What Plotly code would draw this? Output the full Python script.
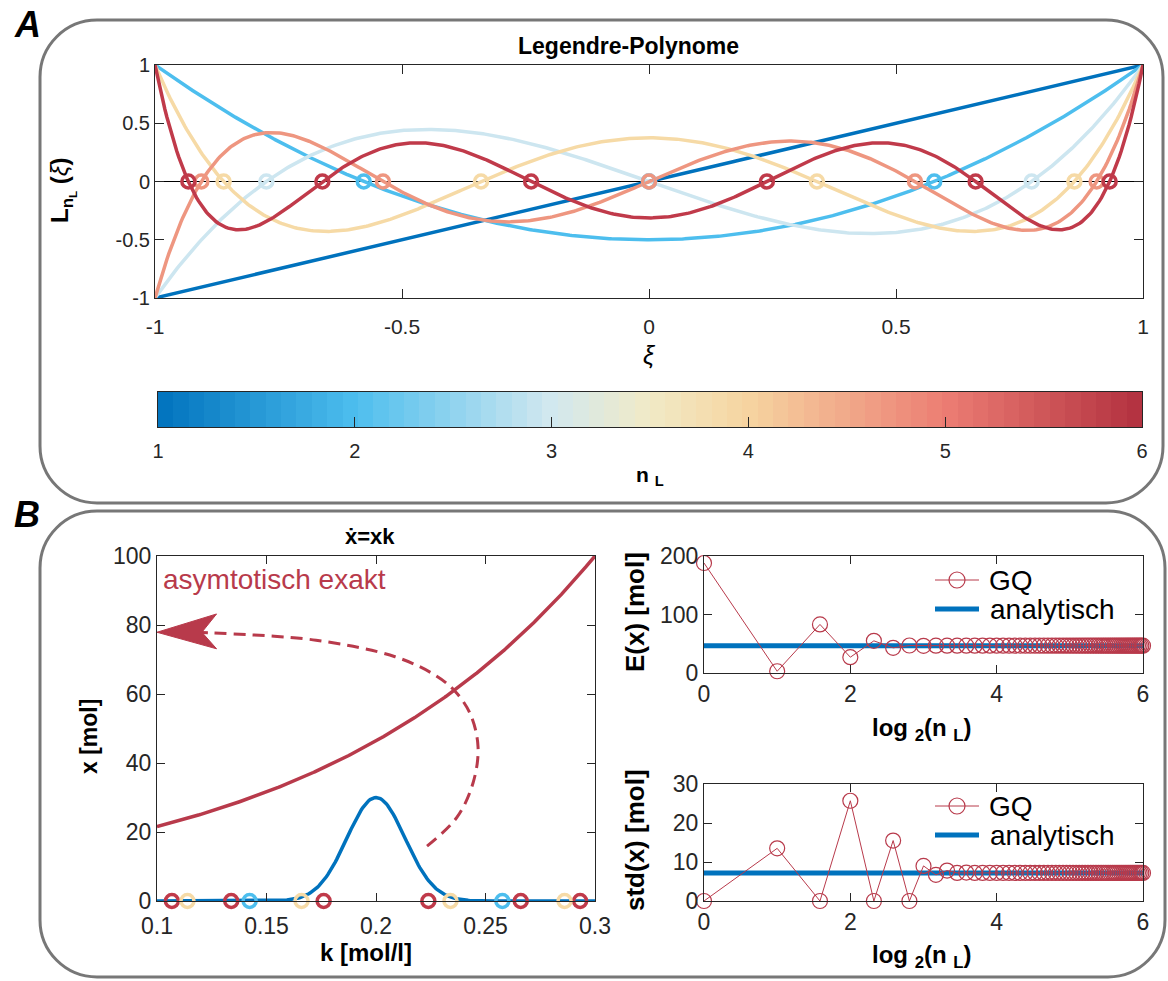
import numpy as np
import plotly.graph_objects as go
from numpy.polynomial import legendre as L

W, H = 1168, 981
FONT = "Liberation Sans, Arial, sans-serif"
TXT = "#262626"

# ---------------- data ----------------
n_L = [1, 2, 3, 4, 5, 6]
line_colors = ["#0072BD", "#4DBEEE", "#CDE6F0", "#F6DAA6", "#EE9680", "#C03A4A"]
nodes = [
    [0.0],
    [-0.5774, 0.5774],
    [-0.7746, 0.0, 0.7746],
    [-0.8611, -0.3400, 0.3400, 0.8611],
    [-0.9062, -0.5385, 0.0, 0.5385, 0.9062],
    [-0.9325, -0.6612, -0.2386, 0.2386, 0.6612, 0.9325],
]
cmap_stops = [0.0, 0.2, 0.4, 0.5, 0.6, 0.8, 1.0]
cmap_cols = ["#0072BD", "#4DBEEE", "#D2E8EF", "#F1EAC6", "#F6D4A0", "#EC7D73", "#B2303F"]
cbar_ticks = [1, 2, 3, 4, 5, 6]

# panel B left
k_range = [0.1, 0.3]
x0_mol = 10.0
t_end = 7.675
k_mean = 0.2
k_sd = 0.0133
k_nodes_2 = [0.1423, 0.2577]
k_nodes_4 = [0.1139, 0.1660, 0.2340, 0.2861]
k_nodes_6 = [0.1068, 0.1339, 0.1761, 0.2239, 0.2661, 0.2932]
node_colors = {2: "#4DBEEE", 4: "#F6DAA6", 6: "#C03A4A"}
RED = "#B83A4B"
BLUE = "#0072BD"

# mapping illustration (dashed arrow)
arrow_k = [0.2233, 0.2370, 0.2443, 0.2466, 0.2432, 0.2361, 0.2269, 0.2087, 0.1726, 0.1256, 0.118]
arrow_x = [15.9, 24.3, 34.2, 44.6, 54.0, 60.8, 65.5, 70.8, 75.6, 77.7, 77.9]

# panel B right
n_quad = list(range(1, 65))
E_gq = [188, 3, 83, 27, 55, 43, 47, 46.5,
        46.7, 46.7, 46.7, 46.7, 46.7, 46.7, 46.7, 46.7,
        46.7, 46.7, 46.7, 46.7, 46.7, 46.7, 46.7, 46.7,
        46.7, 46.7, 46.7, 46.7, 46.7, 46.7, 46.7, 46.7,
        46.7, 46.7, 46.7, 46.7, 46.7, 46.7, 46.7, 46.7,
        46.7, 46.7, 46.7, 46.7, 46.7, 46.7, 46.7, 46.7,
        46.7, 46.7, 46.7, 46.7, 46.7, 46.7, 46.7, 46.7,
        46.7, 46.7, 46.7, 46.7, 46.7, 46.7, 46.7, 46.7]
E_analytic = 46.7
S_gq = [0, 13.5, 0, 25.7, 0, 15.5, 0, 9.0,
        6.7, 7.8, 7.2, 7.3, 7.2, 7.2, 7.2, 7.2,
        7.2, 7.2, 7.2, 7.2, 7.2, 7.2, 7.2, 7.2,
        7.2, 7.2, 7.2, 7.2, 7.2, 7.2, 7.2, 7.2,
        7.2, 7.2, 7.2, 7.2, 7.2, 7.2, 7.2, 7.2,
        7.2, 7.2, 7.2, 7.2, 7.2, 7.2, 7.2, 7.2,
        7.2, 7.2, 7.2, 7.2, 7.2, 7.2, 7.2, 7.2,
        7.2, 7.2, 7.2, 7.2, 7.2, 7.2, 7.2, 7.2]
S_analytic = 7.2
legend_labels = ["GQ", "analytisch"]

# ---------------- helpers ----------------
def px(x):
    return x / W

def py(y):
    return 1 - y / H

def dom_x(a, b):
    return [px(a), px(b)]

def dom_y(top, bottom):
    return [py(bottom), py(top)]

def rrect(x0, y0, x1, y1, r):
    c = 0.5523 * r
    def P(x, y):
        return f"{px(x):.5f},{py(y):.5f}"
    s = f"M{P(x0 + r, y0)} L{P(x1 - r, y0)} C{P(x1 - r + c, y0)} {P(x1, y0 + r - c)} {P(x1, y0 + r)} "
    s += f"L{P(x1, y1 - r)} C{P(x1, y1 - r + c)} {P(x1 - r + c, y1)} {P(x1 - r, y1)} "
    s += f"L{P(x0 + r, y1)} C{P(x0 + r - c, y1)} {P(x0, y1 - r + c)} {P(x0, y1 - r)} "
    s += f"L{P(x0, y0 + r)} C{P(x0, y0 + r - c)} {P(x0 + r - c, y0)} {P(x0 + r, y0)} Z"
    return s

fig = go.Figure()

# ---------------- Panel A: Legendre polynomials ----------------
xi = np.linspace(-1, 1, 501)
for n, col in zip(n_L, line_colors):
    yv = L.Legendre.basis(n)(xi)
    fig.add_trace(go.Scatter(x=xi, y=yv, mode="lines", line=dict(color=col, width=3.5),
                             xaxis="x", yaxis="y", showlegend=False, hoverinfo="skip"))
for n, col, nd in zip(n_L, line_colors, nodes):
    fig.add_trace(go.Scatter(x=nd, y=[0] * len(nd), mode="markers",
                             marker=dict(symbol="circle-open", size=13, color=col, line=dict(width=3.5)),
                             xaxis="x", yaxis="y", showlegend=False, cliponaxis=False, hoverinfo="skip"))

# colorbar as heatmap strip
ncell = 64
cb_x = [cbar_ticks[0] + (i + 0.5) * (cbar_ticks[-1] - cbar_ticks[0]) / ncell for i in range(ncell)]
fig.add_trace(go.Heatmap(x=cb_x, y=[0], z=[cb_x], zmin=1, zmax=6,
                         colorscale=[[s, c] for s, c in zip(cmap_stops, cmap_cols)],
                         showscale=False, xaxis="x2", yaxis="y2", hoverinfo="skip"))

# ---------------- Panel B left ----------------
kk = np.linspace(k_range[0], k_range[1], 301)
x_traj = x0_mol * np.exp(kk * t_end)
pdf = np.exp(-0.5 * ((kk - k_mean) / k_sd) ** 2) / (k_sd * np.sqrt(2 * np.pi))
fig.add_trace(go.Scatter(x=kk, y=x_traj, mode="lines", line=dict(color=RED, width=3.5),
                         xaxis="x3", yaxis="y3", showlegend=False, hoverinfo="skip"))
fig.add_trace(go.Scatter(x=arrow_k, y=arrow_x, mode="lines",
                         line=dict(color=RED, width=3, dash="12px,7px", shape="spline"),
                         xaxis="x3", yaxis="y3", showlegend=False, hoverinfo="skip"))
fig.add_trace(go.Scatter(x=kk, y=pdf, mode="lines", line=dict(color=BLUE, width=3.5),
                         xaxis="x3", yaxis="y3", showlegend=False, hoverinfo="skip", cliponaxis=False))
for n, ks in [(6, k_nodes_6), (4, k_nodes_4), (2, k_nodes_2)]:
    fig.add_trace(go.Scatter(x=ks, y=[0] * len(ks), mode="markers",
                             marker=dict(symbol="circle-open", size=13, color=node_colors[n], line=dict(width=3.5)),
                             xaxis="x3", yaxis="y3", showlegend=False, cliponaxis=False, hoverinfo="skip"))

# ---------------- Panel B right ----------------
lx = np.log2(n_quad)
for xa, yax, vals, ana in [("x4", "y4", E_gq, E_analytic), ("x5", "y5", S_gq, S_analytic)]:
    fig.add_trace(go.Scatter(x=[0, 6], y=[ana, ana], mode="lines", line=dict(color=BLUE, width=5),
                             name="analytisch", showlegend=False, xaxis=xa, yaxis=yax, hoverinfo="skip"))
    fig.add_trace(go.Scatter(x=lx, y=vals, mode="lines+markers", line=dict(color=RED, width=1),
                             marker=dict(symbol="circle-open", size=15, color=RED, line=dict(width=1.2)),
                             name="GQ", showlegend=False, xaxis=xa, yaxis=yax, cliponaxis=False, hoverinfo="skip"))

# ---------------- axes ----------------
def ax(domain, rng, tickvals, ticktext=None, ticklen=8, size=20, **kw):
    d = dict(domain=domain, range=rng, tickvals=tickvals, ticks="inside", ticklen=ticklen,
             tickcolor=TXT, showline=True, linecolor=TXT, linewidth=1, mirror="ticks",
             showgrid=False, zeroline=False, tickfont=dict(family=FONT, size=size, color=TXT),
             automargin=False, fixedrange=True)
    if ticktext is not None:
        d["ticktext"] = ticktext
    d.update(kw)
    return d

layout = dict(
    width=W, height=H, margin=dict(l=0, r=0, t=0, b=0),
    paper_bgcolor="white", plot_bgcolor="white", showlegend=False,
    font=dict(family=FONT, color=TXT),
    xaxis=ax(dom_x(155, 1143), [-1, 1], [-1, -0.5, 0, 0.5, 1], ["-1", "-0.5", "0", "0.5", "1"],
             ticklen=9, anchor="y", ticklabelstandoff=10, size=21),
    yaxis=ax(dom_y(65, 298), [-1, 1], [-1, -0.5, 0, 0.5, 1], ["-1", "-0.5", "0", "0.5", "1"], ticklen=9, anchor="x",
             zeroline=True, zerolinecolor="black", zerolinewidth=1),
    xaxis2=ax(dom_x(158, 1142), [1, 6], cbar_ticks, ticklen=10, anchor="y2", mirror=True, ticklabelstandoff=6),
    yaxis2=ax(dom_y(392, 427), [-0.5, 0.5], [], anchor="x2", mirror=True, ticks=""),
    xaxis3=ax(dom_x(157, 595), k_range, [0.1, 0.15, 0.2, 0.25, 0.3], ["0.1", "0.15", "0.2", "0.25", "0.3"],
              size=23, anchor="y3", ticklabelstandoff=4),
    yaxis3=ax(dom_y(556, 901), [0, 100], [0, 20, 40, 60, 80, 100], size=23, anchor="x3"),
    xaxis4=ax(dom_x(704, 1143), [0, 6], [0, 2, 4, 6], size=23, anchor="y4"),
    yaxis4=ax(dom_y(556, 673), [0, 200], [0, 100, 200], size=23, anchor="x4"),
    xaxis5=ax(dom_x(704, 1143), [0, 6], [0, 2, 4, 6], size=23, anchor="y5"),
    yaxis5=ax(dom_y(784, 901), [0, 30], [0, 10, 20, 30], size=23, anchor="x5"),
)
fig.update_layout(**layout)

# ---------------- shapes ----------------
shapes = [
    dict(type="path", xref="paper", yref="paper", path=rrect(40, 20, 1163, 503, 57),
         line=dict(color="#777777", width=3), layer="below"),
    dict(type="path", xref="paper", yref="paper", path=rrect(40, 511, 1165, 977, 57),
         line=dict(color="#777777", width=3), layer="below"),
    # arrowhead of the mapping illustration
    dict(type="path", xref="x3", yref="y3",
         path="M0.1,77.9 L0.1272,83.2 L0.1205,77.9 L0.1272,73.1 Z",
         fillcolor=RED, line=dict(color=RED, width=1)),
]

annotations = []

def ann(text, x, y, size, angle=0, color="black", xanchor="center", yanchor="middle", **kw):
    return dict(text=text, x=px(x), y=py(y), xref="paper", yref="paper", showarrow=False,
                font=dict(family=FONT, size=size, color=color), textangle=angle,
                xanchor=xanchor, yanchor=yanchor, **kw)

# legends (drawn as small keys)
for y_gq in (580, 806):
    y_an = y_gq + 29
    shapes.append(dict(type="line", xref="paper", yref="paper", x0=px(935), x1=px(979), y0=py(y_gq), y1=py(y_gq),
                       line=dict(color=RED, width=1)))
    shapes.append(dict(type="circle", xref="paper", yref="paper", x0=px(949), x1=px(965),
                       y0=py(y_gq + 8), y1=py(y_gq - 8), line=dict(color=RED, width=1.2), fillcolor="rgba(0,0,0,0)"))
    shapes.append(dict(type="line", xref="paper", yref="paper", x0=px(935), x1=px(979), y0=py(y_an), y1=py(y_an),
                       line=dict(color=BLUE, width=5)))
    annotations.append(ann(legend_labels[0], 987, y_gq, 28, xanchor="left"))
    annotations.append(ann(legend_labels[1], 988, y_an, 28, xanchor="left"))

fig.update_layout(shapes=shapes)

annotations += [
    ann("<b><i>A</i></b>", 27, 25, 36),
    ann("<b><i>B</i></b>", 27, 514, 36),
    ann("<b>Legendre-Polynome</b>", 628, 46, 23),
    ann("<i>ξ</i>", 649, 355, 25),
    ann("<b>L</b><sub><b>n</b><sub><b>L</b></sub></sub><b> (</b><i>ξ</i><b>)</b>", 62, 190, 24, angle=-90),
    ann("<b>n <sub>L</sub></b>", 650, 476, 21),
    ann("<b>ẋ=xk</b>", 370, 536, 22),
    ann("<b>x [mol]</b>", 89, 737, 23, angle=-90),
    ann("<b>k [mol/l]</b>", 366, 952, 24),
    ann("<b>E(x) [mol]</b>", 635, 612, 26, angle=-90),
    ann("<b>std(x) [mol]</b>", 635, 840, 26, angle=-90),
    ann("<b>log <sub>2</sub>(n <sub>L</sub>)</b>", 922, 729, 24),
    ann("<b>log <sub>2</sub>(n <sub>L</sub>)</b>", 922, 956, 24),
    ann("asymtotisch exakt", 161, 579, 28, color=RED, xanchor="left"),
]
fig.update_layout(annotations=annotations)

fig.write_html("out.html")
